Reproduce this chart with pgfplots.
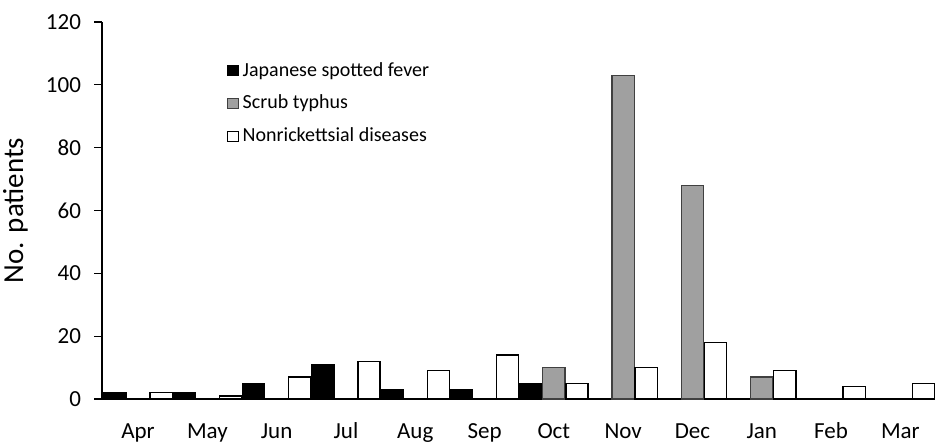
\documentclass[border=0pt]{standalone}
\usepackage{fontspec}
\setmainfont{Carlito}
\usepackage{pgfplots}
\pgfplotsset{compat=1.18}
\definecolor{scrub}{HTML}{A0A0A0}
\begin{document}
\begin{tikzpicture}
\useasboundingbox (-51pt,-21pt) rectangle (416.5pt,199.5pt);
\begin{axis}[
  at={(0,0)}, anchor=south west,
  scale only axis, width=416.5pt, height=188.5pt,
  xmin=-0.52, xmax=11.5, ymin=0, ymax=120,
  axis x line=bottom, axis y line=left,
  axis line style={-, line width=0.9pt},
  ytick={0,20,...,120},
  xtick={0,...,11},
  xticklabels={Apr,May,Jun,Jul,Aug,Sep,Oct,Nov,Dec,Jan,Feb,Mar},
  x tick style={draw=none},
  y tick style={line width=0.6pt, black},
  tick align=outside, major tick length=4pt,
  /pgf/number format/assume math mode=true,
  tick label style={font=\fontsize{11.5}{13}\selectfont},
  yticklabel style={xshift=-3pt},
  xticklabel style={yshift=-4pt, text height=8pt, text depth=2.5pt},
  ylabel={No. patients},
  ylabel style={at={(axis description cs:-0.104,0.5)}, anchor=center, font=\fontsize{14.5}{16}\selectfont},
  bar width=0.32,
  legend style={draw=none, fill=none, at={(axis description cs:0.15,0.905)}, anchor=north west,
    font=\fontsize{10}{11}\selectfont, row sep=4pt, inner sep=0pt,
    /tikz/every even column/.append style={column sep=0pt}},
  legend cell align=left,
  legend image code/.code={\draw[#1, line width=0.5pt] (0pt,-2.6pt) rectangle (5.2pt,2.6pt);},
]
\addplot[ybar, bar shift=-0.3333, fill=black, draw=black, line width=0.7pt] coordinates {
 (0,2) (1,2) (2,5) (3,11) (4,3) (5,3) (6,5)};
\addlegendentry{Japanese spotted fever}
\addplot[ybar, bar shift=0, fill=scrub, draw=black!75, line width=0.7pt] coordinates {
 (6,10) (7,103) (8,68) (9,7)};
\addlegendentry{Scrub typhus}
\addplot[ybar, bar shift=0.3333, fill=white, draw=black, line width=0.7pt] coordinates {
 (0,2) (1,1) (2,7) (3,12) (4,9) (5,14) (6,5) (7,10) (8,18) (9,9) (10,4) (11,5)};
\addlegendentry{Nonrickettsial diseases}
\end{axis}
\end{tikzpicture}
\end{document}
